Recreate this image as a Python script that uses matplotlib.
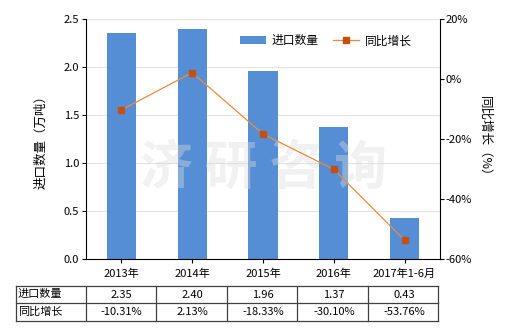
import matplotlib
matplotlib.use("Agg")
import matplotlib.pyplot as plt
from matplotlib.lines import Line2D
from matplotlib.transforms import blended_transform_factory
from matplotlib.ticker import FuncFormatter

plt.rcParams['font.family'] = ['Noto Sans CJK SC', 'DejaVu Sans']

categories = ["2013年", "2014年", "2015年", "2016年", "2017年1-6月"]
quantity = [2.35, 2.40, 1.96, 1.37, 0.43]
growth = [-10.31, 2.13, -18.33, -30.10, -53.76]
row_names = ["进口数量", "同比增长"]
qty_labels = ["2.35", "2.40", "1.96", "1.37", "0.43"]
growth_labels = ["-10.31%", "2.13%", "-18.33%", "-30.10%", "-53.76%"]

BAR = "#558ed5"
LINE = "#ee8a3a"
MARK = "#c5500e"

fig = plt.figure(figsize=(5.2, 3.3), dpi=100)
ax = fig.add_axes([86 / 520, 1 - 259 / 330, 354 / 520, 240 / 330])
ax2 = ax.twinx()

x = list(range(len(categories)))
bars = ax.bar(x, quantity, width=0.41, color=BAR, zorder=2, label="进口数量")
line, = ax2.plot(x, growth, color=LINE, lw=0.9, marker="s", ms=5,
                 markerfacecolor=MARK, markeredgecolor=MARK, label="同比增长", zorder=3)

ax.set_xlim(-0.5, len(categories) - 0.5)
ax.set_ylim(0, 2.5)
ax.set_yticks([0, 0.5, 1.0, 1.5, 2.0, 2.5])
ax.yaxis.set_major_formatter(FuncFormatter(lambda v, p: f"{v:.1f}"))
ax2.set_ylim(-60, 20)
ax2.set_yticks([-60, -40, -20, 0, 20])
ax2.yaxis.set_major_formatter(FuncFormatter(lambda v, p: f"{v:.0f}%"))

ax.grid(axis="y", color="#e3e3e3", lw=0.8, zorder=0)
ax.set_axisbelow(True)
ax.set_xticks(x)
ax.set_xticklabels(categories, fontsize=8)
ax.tick_params(axis="y", labelsize=8, length=3, pad=2)
ax.tick_params(axis="x", length=3, pad=4)
ax2.tick_params(axis="y", labelsize=8, length=3, pad=1)
for a in (ax, ax2):
    a.spines["top"].set_visible(False)
ax.spines["right"].set_visible(False)
ax2.spines["left"].set_visible(False)
ax2.spines["bottom"].set_visible(False)

ax.set_ylabel("进口数量（万吨）", fontsize=9, labelpad=12)
ax2.set_ylabel("同比增长（%）", fontsize=9, rotation=-90, labelpad=14)

# watermark
ax.text(0.5, 0.38, "济 研 咨 询", transform=ax.transAxes, ha="center", va="center",
        fontsize=38, fontweight="bold", color="#dcdcdc", alpha=0.4, zorder=4)

handles = [bars, line]
ax.legend(handles, [h.get_label() for h in handles], loc="upper right",
          bbox_to_anchor=(0.95, 0.98), ncol=2, frameon=False, fontsize=8.5,
          handlelength=2.2, columnspacing=1.2, handletextpad=0.5)

# data table under the chart
tr = blended_transform_factory(ax.transData, fig.transFigure)
y_top, y_mid, y_bot = 1 - 285.7 / 330, 1 - 303.3 / 330, 1 - 320.7 / 330
x_left = 15.7 / 520
x_first = 85.7 / 520
x_right = 438.3 / 520
for yy in (y_top, y_mid, y_bot):
    fig.add_artist(Line2D([x_left, x_right], [yy, yy], color="#404040", lw=0.9))
cols = [x_left, x_first] + [x_first + (x_right - x_first) * (i + 1) / 5 for i in range(5)]
for xx in cols:
    fig.add_artist(Line2D([xx, xx], [y_bot, y_top], color="#404040", lw=0.9))
for r, name in enumerate(row_names):
    yc = (y_top + y_mid) / 2 if r == 0 else (y_mid + y_bot) / 2
    fig.text(x_left + 0.004, yc, name, fontsize=8, va="center", ha="left")
for i in x:
    ax.text(i, (y_top + y_mid) / 2, qty_labels[i], transform=tr, fontsize=8,
            ha="center", va="center", clip_on=False)
    ax.text(i, (y_mid + y_bot) / 2, growth_labels[i], transform=tr, fontsize=8,
            ha="center", va="center", clip_on=False)

fig.savefig("out.png", dpi=100)
